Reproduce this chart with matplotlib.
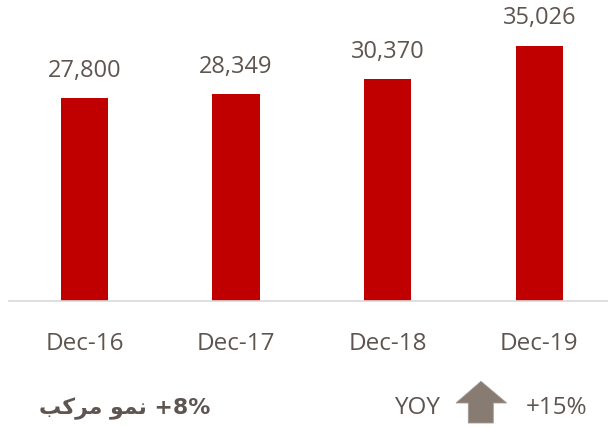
import matplotlib
matplotlib.use("Agg")
import matplotlib.pyplot as plt
from matplotlib.patches import Polygon

# ---- data ----
categories = ["Dec-16", "Dec-17", "Dec-18", "Dec-19"]
values = [27800, 28349, 30370, 35026]
value_labels = ["27,800", "28,349", "30,370", "35,026"]
cagr_text = "\ufe90\ufedb\ufeae\ufee3 \ufeee\ufee4\ufee7 +8%"   # "+8% نمو مركب" in visual (shaped) order
yoy_label = "YOY"
yoy_value = "+15%"

BAR = "#C00000"
TXT = "#5F5550"
ARROW = "#887B71"
FONT = "Open Sans"

W, H = 608, 428
fig = plt.figure(figsize=(W / 100, H / 100), dpi=100)

# axes placement (pixels)
ax_left, ax_right = 8.7, 615.0
base_y = 301.2           # baseline from top
px_per_unit = 0.0073
ymax = 40000
ax_h = ymax * px_per_unit
ax = fig.add_axes([ax_left / W, (H - base_y) / H, (ax_right - ax_left) / W, ax_h / H])

x = range(len(categories))
ax.bar(x, values, width=0.312, color=BAR, zorder=2)
ax.set_xlim(-0.5, len(categories) - 0.5)
ax.set_ylim(0, ymax)

for s in ["top", "left", "right"]:
    ax.spines[s].set_visible(False)
ax.spines["bottom"].set_color("#D9D9D9")
ax.spines["bottom"].set_linewidth(1.2)
ax.set_yticks([])
ax.set_xticks(list(x))
ax.set_xticklabels(categories, fontsize=17.5, color=TXT, family=FONT)
ax.tick_params(axis="x", length=0, pad=22)
ax.patch.set_alpha(0)

for xi, v, lab in zip(x, values, value_labels):
    ax.annotate(lab, (xi, v), xytext=(0, 15.3), textcoords="offset points",
                ha="center", va="baseline", fontsize=17, color=TXT, family=FONT,
                annotation_clip=False)

# bottom row
def fy(ypx):
    return (H - ypx) / H

fig.text(125 / W, fy(414.5), cagr_text, ha="center", va="baseline",
         fontsize=15.8, fontweight="bold", color=TXT, family=["DejaVu Sans"])
fig.text(416.5 / W, fy(413.5), yoy_label, ha="center", va="baseline",
         fontsize=17.5, color=TXT, family=FONT)
fig.text(556.5 / W, fy(414.5), yoy_value, ha="center", va="baseline",
         fontsize=17.5, color=TXT, family=FONT)

arrow_px = [(481, 381.3), (456, 403), (468.3, 403), (468.3, 423),
            (493.3, 423), (493.3, 403), (506.7, 403)]
arrow = Polygon([(px / W, fy(py)) for px, py in arrow_px], closed=True,
                transform=fig.transFigure, facecolor=ARROW, edgecolor="#A39A92",
                linewidth=0.6)
fig.patches.append(arrow)

fig.savefig("out.png", dpi=100)
